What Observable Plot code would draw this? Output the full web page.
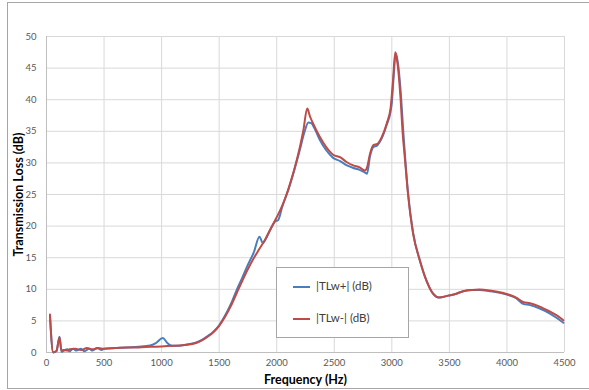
<!DOCTYPE html>
<html><head><meta charset="utf-8">
<script src="https://cdn.jsdelivr.net/npm/d3@7"></script>
<script src="https://cdn.jsdelivr.net/npm/@observablehq/plot@0.6"></script>
<style>
body{margin:0;background:#fff;}
#wrap{position:relative;width:589px;height:390px;overflow:hidden;font-family:Lato,"Open Sans",sans-serif;}
#border{position:absolute;left:7px;top:2px;width:620px;height:385px;border:1px solid #a6a6a6;pointer-events:none;}
#chart{position:absolute;left:0;top:0;}
#legend{position:absolute;left:276px;top:267px;width:131px;height:69px;border:1px solid #a6a6a6;background:#fff;font-family:Lato,"Open Sans",sans-serif;font-size:11.5px;color:#404040;}
.li{position:absolute;left:16px;height:0;width:17px;}
.lt{position:absolute;left:39px;}
svg [aria-label="x-axis label"] text, svg [aria-label="y-axis label"] text{font-weight:bold;font-size:12.5px;fill:#000;}
svg [aria-label="x-axis tick label"] text, svg [aria-label="y-axis tick label"] text{fill:#595959;}
</style>
</head><body>
<div id="wrap">
<div id="chart"></div>
<div id="border"></div>
<div id="legend"></div>
</div>
<script>
const seriesNames = ["|TLw+| (dB)", "|TLw-| (dB)"];
const seriesColors = ["#4A7EBB", "#BE4B48"];
const xTicks = [0,500,1000,1500,2000,2500,3000,3500,4000,4500];
const yTicks = [0,5,10,15,20,25,30,35,40,45,50];

const freqBlue = [30,58,87,113,130,150,180,200,230,260,300,330,370,400,440,480,500,600,700,800,900,950,1010,1050,1080,1100,1200,1300,1350,1400,1450,1500,1550,1600,1650,1700,1750,1800,1850,1880,1900,1950,1990,2010,2050,2100,2150,2200,2240,2275,2300,2330,2375,2430,2490,2550,2610,2665,2720,2765,2785,2810,2840,2875,2910,2955,2990,3000,3015,3035,3055,3080,3100,3115,3141,3185,3243,3300,3358,3410,3490,3560,3620,3700,3760,3850,3990,4080,4140,4200,4280,4370,4430,4490];
const valBlue = [5.8,0.0,0.2,2.5,0.1,0.3,0.5,0.2,0.6,0.3,0.6,0.2,0.6,0.3,0.7,0.4,0.6,0.7,0.8,0.9,1.1,1.5,2.3,1.5,1.1,1.05,1.2,1.6,2.0,2.6,3.3,4.3,5.8,7.6,9.8,11.8,13.9,15.8,18.3,17.3,17.8,19.6,20.8,20.9,23.2,25.7,28.7,32.0,34.8,36.4,36.3,35.4,33.6,32.0,30.8,30.3,29.6,29.2,28.9,28.5,28.3,31.0,32.5,32.8,33.8,36.0,38.2,39.5,43.5,47.3,45.5,40.5,34.8,31.0,25.2,18.9,14.6,11.4,9.3,8.7,9.0,9.3,9.7,9.9,9.9,9.7,9.2,8.6,7.7,7.5,7.0,6.2,5.5,4.7];

const freqRed = [30,58,87,113,130,150,180,200,250,300,350,400,450,500,600,700,800,900,1000,1100,1200,1300,1350,1400,1450,1500,1550,1600,1650,1700,1750,1800,1850,1900,1950,2000,2050,2100,2150,2200,2230,2265,2290,2330,2375,2430,2490,2550,2610,2665,2720,2765,2785,2810,2840,2875,2910,2955,2990,3010,3030,3046,3075,3095,3112,3141,3185,3243,3300,3358,3410,3490,3560,3620,3700,3760,3850,3990,4080,4140,4200,4280,4370,4430,4490];
const valRed = [6.0,0.05,0.3,2.4,0.3,0.4,0.3,0.5,0.6,0.4,0.7,0.5,0.7,0.6,0.7,0.8,0.8,0.9,0.95,1.05,1.2,1.5,1.9,2.5,3.2,4.2,5.6,7.3,9.3,11.3,13.2,14.9,16.4,17.9,19.7,21.4,23.3,25.8,28.8,32.4,35.0,38.6,37.3,35.7,34.1,32.5,31.3,30.9,30.1,29.6,29.3,28.8,29.3,31.4,32.8,33.0,34.0,36.2,38.8,43.0,47.5,46.2,40.4,34.5,31.0,25.0,18.8,14.6,11.4,9.3,8.7,9.0,9.3,9.7,9.9,9.95,9.8,9.3,8.7,8.0,7.8,7.3,6.5,5.9,5.1];

const blue = freqBlue.map((f,i)=>({f, v: valBlue[i]}));
const red = freqRed.map((f,i)=>({f, v: valRed[i]}));

const plot = Plot.plot({
  width: 589, height: 390,
  marginLeft: 46, marginRight: 25, marginTop: 36, marginBottom: 38,
  style: {fontFamily: "Lato, 'Open Sans', sans-serif", fontSize: "9.5px", background: "transparent"},
  x: {domain: [0,4500]},
  y: {domain: [0,50]},
  marks: [
    Plot.gridX(xTicks, {stroke: "#d9d9d9", strokeOpacity: 1}),
    Plot.gridY(yTicks, {stroke: "#d9d9d9", strokeOpacity: 1}),
    Plot.ruleY([0], {stroke: "#bfbfbf"}),
    Plot.ruleX([0], {stroke: "#bfbfbf"}),
    Plot.axisX({ticks: xTicks, tickFormat: d => String(d), tickSize: 0, tickPadding: 7, label: "Frequency (Hz)", labelAnchor: "center", labelOffset: 31, labelArrow: "none"}),
    Plot.axisY({ticks: yTicks, tickFormat: d => String(d), tickSize: 0, tickPadding: 10, label: "Transmission Loss (dB)", labelAnchor: "center", labelOffset: 32, labelArrow: "none"}),
    Plot.line(blue, {x: "f", y: "v", stroke: seriesColors[0], strokeWidth: 2, curve: "monotone-x"}),
    Plot.line(red, {x: "f", y: "v", stroke: seriesColors[1], strokeWidth: 2, curve: "monotone-x"})
  ]
});
document.getElementById("chart").appendChild(plot);

const lg = document.getElementById("legend");
seriesNames.forEach((n,i)=>{
  const y = i === 0 ? 18 : 50;
  const l = document.createElement("div");
  l.className = "li"; l.style.top = y + "px"; l.style.borderTop = "2px solid " + seriesColors[i];
  lg.appendChild(l);
  const t = document.createElement("div");
  t.className = "lt"; t.style.top = (y - 7) + "px"; t.textContent = n;
  lg.appendChild(t);
});
</script>
</body></html>
